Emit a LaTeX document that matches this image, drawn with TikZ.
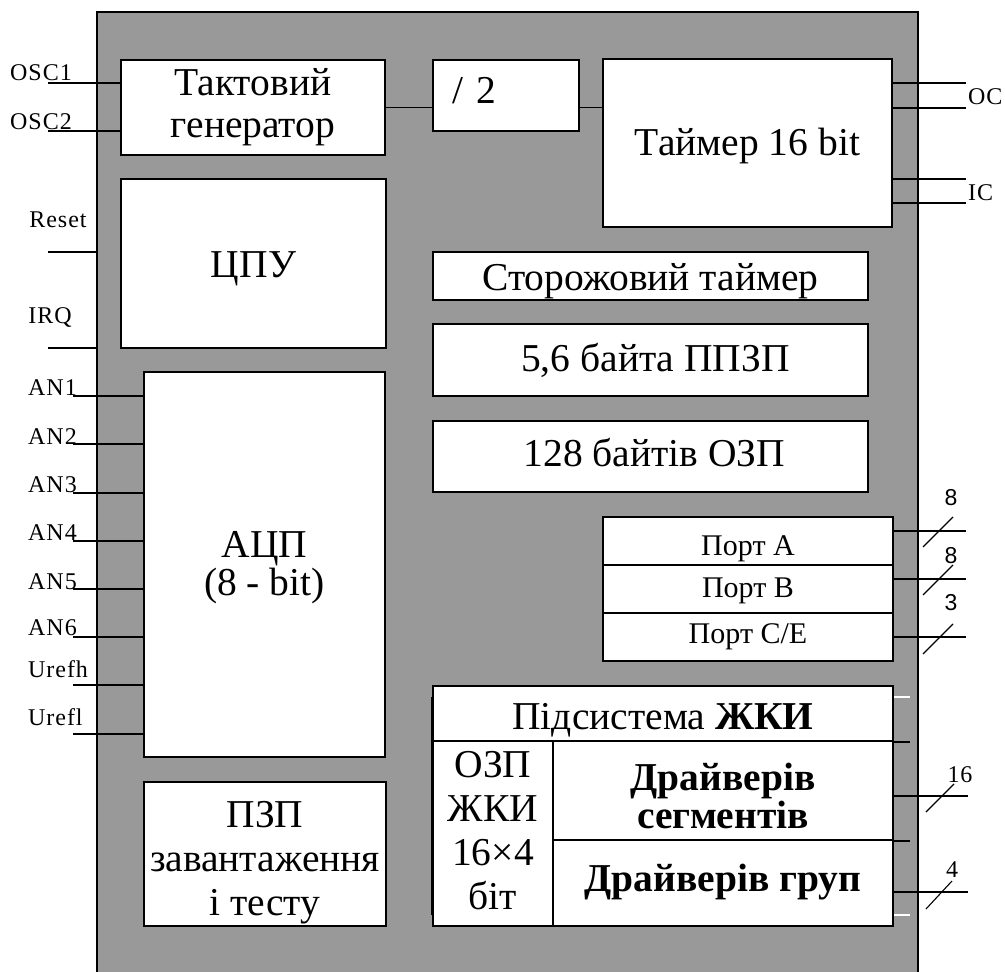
\documentclass[tikz,border=0pt]{standalone}
\usepackage{fontspec}
\setmainfont{Liberation Serif}
\newfontfamily\pinsans{Liberation Sans}
\newfontfamily\pinfont{Liberation Serif}[LetterSpace=4]
\definecolor{chip}{RGB}{153,153,153}
\newcommand{\lowered}[2]{\raisebox{#1}[\height][\depth]{\begin{tabular}{@{}c@{}}#2\end{tabular}}}
\newcommand{\shiftv}[2]{\raisebox{#1}[\height][\depth]{#2}}
\begin{document}
\begin{tikzpicture}[x=1pt,y=-1pt,
  blk/.style={draw=black, line width=1.8pt, fill=white, inner sep=0pt, align=center,
              font=\fontsize{39.5}{42}\selectfont},
  portrow/.style={draw=black, line width=1.6pt, fill=white, inner sep=0pt,
              minimum width=290pt, minimum height=48pt, font=\fontsize{30}{30}\selectfont},
  pinlbl/.style={inner sep=0pt, font=\pinfont\fontsize{24}{24}\selectfont},
  cntlbl/.style={inner sep=0pt, font=\pinsans\fontsize{23}{24}\selectfont},
  pin/.style={line width=1.5pt},
  slash/.style={line width=1.1pt}]
\useasboundingbox (0,0) rectangle (1005,972);
\clip (0,0) rectangle (1005,972);
% chip body
\node[draw=black, line width=1.8pt, fill=chip, minimum width=821pt, minimum height=980pt, inner sep=0pt, anchor=north west] (chip) at (96,11) {};
% blocks
\node[blk, minimum width=264pt, minimum height=95pt] (gen) at (253,107.5) {Тактовий\\генератор};
\node[blk, minimum width=146pt, minimum height=71pt, text width=108pt, align=left] (div) at (506,95.5) {\shiftv{5pt}{/ 2}};
\node[blk, minimum width=289pt, minimum height=168pt] (timer) at (747.5,143) {\shiftv{-3pt}{Таймер 16 bit}};
\node[blk, minimum width=265pt, minimum height=169pt] (cpu) at (253.5,263.5) {\shiftv{-5pt}{ЦПУ}};
\node[blk, minimum width=241pt, minimum height=385pt, font=\fontsize{39.5}{36}\selectfont] (adc) at (264.5,564.5) {\lowered{-4pt}{АЦП\\(8 - bit)}};
\node[blk, minimum width=242pt, minimum height=144pt, font=\fontsize{39.5}{44}\selectfont] (rom) at (265,854) {\lowered{-9pt}{ПЗП\\завантаження\\і тесту}};
\node[blk, minimum width=435pt, minimum height=48pt] (wdt) at (650.5,276) {\shiftv{-5pt}{Сторожовий таймер}};
\node[blk, minimum width=435pt, minimum height=72pt] (eeprom) at (650.5,360) {\hspace{10pt}5,6 байта ППЗП};
\node[blk, minimum width=435pt, minimum height=71pt] (ram) at (650.5,456.5) {\hspace{8pt}\shiftv{4pt}{128 байтів ОЗП}};
% ports
\node[portrow] (porta) at (748,541) {\shiftv{-8pt}{Порт A}};
\node[portrow] (portb) at (748,589) {\shiftv{-2pt}{Порт B}};
\node[portrow] (portc) at (748,637) {Порт C/E};
% LCD subsystem
\node[blk, minimum width=460pt, minimum height=55pt] (lcdt) at (663,713.5) {\shiftv{-7pt}{Підсистема \textbf{ЖКИ}}};
\node[blk, minimum width=120pt, minimum height=185pt, font=\fontsize{39.5}{44}\selectfont] (lcdram) at (493,833.5) {\lowered{-1pt}{ОЗП\\ЖКИ\\16×4\\біт}};
\node[blk, minimum width=340pt, minimum height=99pt, font=\bfseries\fontsize{39.5}{38}\selectfont] (seg) at (723,790.5) {\lowered{-11pt}{Драйверів\\сегментів}};
\node[blk, minimum width=340pt, minimum height=86pt, font=\bfseries\fontsize{39.5}{42}\selectfont] (grp) at (723,883) {\shiftv{1pt}{Драйверів груп}};
\draw[line width=3pt] (lcdt.north west |- 0,697) -- (lcdt.north west |- 0,915);
\draw[pin] (lcdt.south east) -- ++(16,0);
\draw[pin] (seg.south east) -- ++(16,0);
\draw[white, line width=1.5pt] (lcdt.north east |- 0,697) -- ++(16,0);
\draw[white, line width=1.5pt] (lcdt.north east |- 0,915) -- ++(16,0);
% internal connections
\draw[pin] (gen.east) -- (gen.east -| div.west);
\draw[pin] (div.east |- gen.east) -- (gen.east -| timer.west);
% left pins
\node[pinlbl] (losc1) at (41,73) {OSC1};
\node[pinlbl] (losc2) at (41,122) {OSC2};
\coordinate (posc1) at (48,83);
\coordinate (posc2) at (48,131);
\draw[pin] (posc1) -- (posc1 -| gen.west);
\draw[pin] (posc2) -- (posc2 -| gen.west);
\node[pinlbl] (lreset) at (58,220) {Reset};
\node[pinlbl] (lirq) at (50,317) {IRQ};
\coordinate (preset) at (48,252);
\coordinate (pirq) at (48,348);
\draw[pin] (preset) -- (preset -| chip.west);
\draw[pin] (pirq) -- (pirq -| chip.west);
\foreach \t/\ly/\py in {AN1/388/396, AN2/437/444, AN3/485/493, AN4/533/541, AN5/582/589, AN6/628/637, Urefh/669/685, Urefl/717/734}{
  \node[pinlbl, anchor=west] (l\t) at (28,\ly) {\t};
  \coordinate (p\t) at (73,\py);
  \draw[pin] (p\t) -- (p\t -| adc.west);
}
% timer pins
\coordinate (poc1) at (966,83);
\coordinate (poc2) at (966,108);
\coordinate (pic1) at (966,179);
\coordinate (pic2) at (966,203);
\foreach \p in {poc1,poc2,pic1,pic2}{\draw[pin] (\p) -- (\p -| timer.east);}
\node[pinlbl, anchor=west] (loc) at (968,97) {OC};
\node[pinlbl, anchor=west] (lic) at (968,193) {IC};
% port pins
\coordinate (ppa) at (966,531);
\coordinate (ppb) at (966,579);
\coordinate (ppc) at (966,637);
\draw[pin] (ppa) -- (ppa -| porta.east);
\draw[pin] (ppb) -- (ppb -| portb.east);
\draw[pin] (ppc) -- (ppc -| portc.east);
\draw[slash] (923,547) -- (953,517);
\draw[slash] (923,595) -- (953,565);
\draw[slash] (923,654) -- (953,624);
\node[cntlbl] (na) at (951,498) {8};
\node[cntlbl] (nb) at (951,556) {8};
\node[cntlbl] (nc) at (951,603) {3};
% LCD pins
\coordinate (pseg) at (968,796);
\coordinate (pgrp) at (968,892);
\draw[pin] (pseg) -- (pseg -| seg.east);
\draw[pin] (pgrp) -- (pgrp -| grp.east);
\draw[slash] (926,812) -- (954,784);
\draw[slash] (926,909) -- (952,881);
\node[pinlbl] (nseg) at (960,775) {16};
\node[pinlbl] (ngrp) at (952,870) {4};
\end{tikzpicture}
\end{document}
